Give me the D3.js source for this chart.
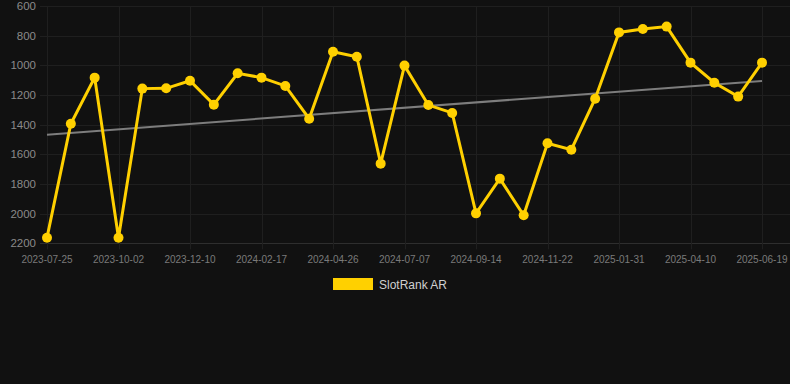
<!DOCTYPE html>
<html lang="en">
<head>
  <meta charset="UTF-8">
  <title>SlotRank AR</title>
  <script src="https://d3js.org/d3.v7.min.js"></script>
  <style>
    html, body { margin: 0; padding: 0; background: #111111; }
    svg { display: block; font-family: "Liberation Sans", Arial, sans-serif; }
  </style>
</head>
<body>
  <script>
    const dates = [
      "2023-07-25", "2023-08-17", "2023-09-09", "2023-10-02", "2023-10-25", "2023-11-17",
      "2023-12-10", "2024-01-02", "2024-01-25", "2024-02-17", "2024-03-11", "2024-04-03",
      "2024-04-26", "2024-05-20", "2024-06-13", "2024-07-07", "2024-07-30", "2024-08-22",
      "2024-09-14", "2024-10-07", "2024-10-30", "2024-11-22", "2024-12-15", "2025-01-08",
      "2025-01-31", "2025-02-23", "2025-03-18", "2025-04-10", "2025-05-03", "2025-05-26",
      "2025-06-19"
    ];
    const ranks = [
      2162, 1394, 1083, 2162, 1157, 1155,
      1104, 1265, 1054, 1083, 1139, 1360,
      908, 942, 1663, 1002, 1268, 1321,
      1998, 1764, 2011, 1526, 1569, 1225,
      778, 755, 739, 982, 1117, 1211,
      982
    ];
    const yTicks = [600, 800, 1000, 1200, 1400, 1600, 1800, 2000, 2200];
    const seriesName = "SlotRank AR";

    const width = 790, height = 384;
    const plotLeft = 40, plotRight = 790, plotTop = 6, plotBottom = 243.3;
    const yellow = "#ffd000";

    const svg = d3.select("body").append("svg")
      .attr("width", width)
      .attr("height", height);

    svg.append("rect").attr("width", width).attr("height", height).attr("fill", "#111111");

    const x = d3.scalePoint().domain(dates).range([47, 762]);
    const y = d3.scaleLinear().domain([600, 2200]).range([plotTop, plotBottom]);

    const shownDates = dates.filter((d, i) => i % 3 === 0);

    // grid
    svg.append("g")
      .selectAll("line")
      .data(yTicks)
      .join("line")
      .attr("x1", plotLeft).attr("x2", plotRight)
      .attr("y1", d => Math.round(y(d)) + 0.5).attr("y2", d => Math.round(y(d)) + 0.5)
      .attr("stroke", d => d === 2200 ? "#2e2e2e" : "#1f1f1f")
      .attr("stroke-width", 1);

    svg.append("g")
      .selectAll("line")
      .data(shownDates)
      .join("line")
      .attr("x1", d => Math.round(x(d)) + 0.5).attr("x2", d => Math.round(x(d)) + 0.5)
      .attr("y1", plotTop).attr("y2", plotBottom + 6)
      .attr("stroke", "#1f1f1f")
      .attr("stroke-width", 1);

    // y labels
    svg.append("g")
      .selectAll("text")
      .data(yTicks)
      .join("text")
      .attr("x", 36)
      .attr("y", d => y(d))
      .attr("dy", "0.36em")
      .attr("text-anchor", "end")
      .attr("fill", "#8a8a8a")
      .attr("font-size", 11.5)
      .text(d => d);

    // x labels
    svg.append("g")
      .selectAll("text")
      .data(shownDates)
      .join("text")
      .attr("x", d => x(d))
      .attr("y", 263)
      .attr("text-anchor", "middle")
      .attr("fill", "#7a7a7a")
      .attr("font-size", 10)
      .text(d => d);

    // trend (least squares over the series)
    const n = ranks.length;
    const mx = d3.mean(ranks, (d, i) => i);
    const my = d3.mean(ranks);
    const slope = d3.sum(ranks, (d, i) => (i - mx) * (d - my)) / d3.sum(ranks, (d, i) => (i - mx) * (i - mx));
    const trend = [0, n - 1].map(i => ({ date: dates[i], v: my + slope * (i - mx) }));

    svg.append("path")
      .datum(trend)
      .attr("fill", "none")
      .attr("stroke", "#7d7d7d")
      .attr("stroke-width", 2)
      .attr("d", d3.line().x(d => x(d.date)).y(d => y(d.v)));

    // series
    const pts = dates.map((d, i) => ({ date: d, v: ranks[i] }));

    svg.append("path")
      .datum(pts)
      .attr("fill", "none")
      .attr("stroke", yellow)
      .attr("stroke-width", 3)
      .attr("stroke-linejoin", "miter")
      .attr("d", d3.line().x(d => x(d.date)).y(d => y(d.v)));

    svg.append("g")
      .selectAll("circle")
      .data(pts)
      .join("circle")
      .attr("cx", d => x(d.date))
      .attr("cy", d => y(d.v))
      .attr("r", 5)
      .attr("fill", yellow);

    // legend
    svg.append("rect")
      .attr("x", 333).attr("y", 278)
      .attr("width", 40).attr("height", 12)
      .attr("fill", yellow);

    svg.append("text")
      .attr("x", 379).attr("y", 288.5)
      .attr("fill", "#d0d0d0")
      .attr("font-size", 12)
      .text(seriesName);
  </script>
</body>
</html>
